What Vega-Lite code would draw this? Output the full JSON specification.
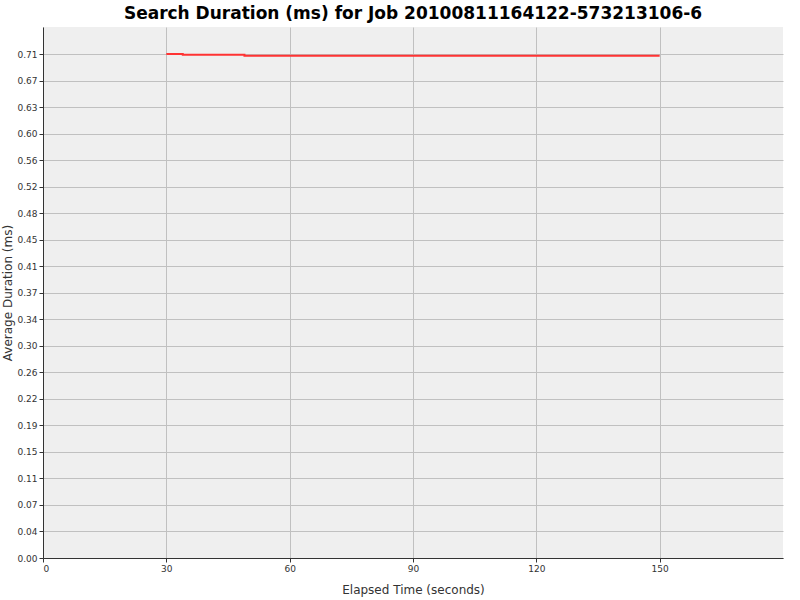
{
  "$schema": "https://vega.github.io/schema/vega-lite/v6.json",
  "description": "Search duration for job 20100811164122-573213106-6",
  "width": 740,
  "height": 531,
  "autosize": {"type": "none"},
  "padding": {"left": 43, "top": 27, "right": 17, "bottom": 42},
  "background": "white",
  "title": {
    "text": "Search Duration (ms) for Job 20100811164122-573213106-6",
    "font": "DejaVu Sans",
    "fontSize": 17,
    "fontWeight": "bold",
    "color": "black",
    "anchor": "middle",
    "offset": 4
  },
  "data": {
    "values": [
      {"t": 30, "ms": 0.7085},
      {"t": 34, "ms": 0.7072},
      {"t": 49, "ms": 0.706},
      {"t": 150, "ms": 0.706}
    ]
  },
  "mark": {"type": "line", "interpolate": "step-after", "color": "#ff3333", "strokeWidth": 2},
  "encoding": {
    "x": {
      "field": "t",
      "type": "quantitative",
      "title": "Elapsed Time (seconds)",
      "scale": {"domain": [0, 180], "nice": false, "zero": false},
      "axis": {"values": [0, 30, 60, 90, 120, 150], "format": "d"}
    },
    "y": {
      "field": "ms",
      "type": "quantitative",
      "title": "Average Duration (ms)",
      "scale": {"domain": [0, 0.7463], "nice": false},
      "axis": {
        "values": [0, 0.03726, 0.07452, 0.11178, 0.14904, 0.1863, 0.22356, 0.26082, 0.29808, 0.33534, 0.3726, 0.40986, 0.44712, 0.48438, 0.52164, 0.5589, 0.59616, 0.63342, 0.67068, 0.70794],
        "format": ".2f"
      }
    }
  },
  "config": {
    "view": {"fill": "#efefef", "stroke": null},
    "axis": {
      "labelFont": "DejaVu Sans",
      "labelFontSize": 9,
      "labelColor": "#333333",
      "titleFont": "DejaVu Sans",
      "titleFontSize": 12,
      "titleFontWeight": "normal",
      "titleColor": "#333333",
      "domainColor": "#333333",
      "tickColor": "#333333",
      "tickSize": 4,
      "gridColor": "#c0c0c0",
      "gridWidth": 1,
      "labelPadding": 2
    },
    "axisX": {"titlePadding": 11},
    "axisY": {"titlePadding": 2}
  }
}
